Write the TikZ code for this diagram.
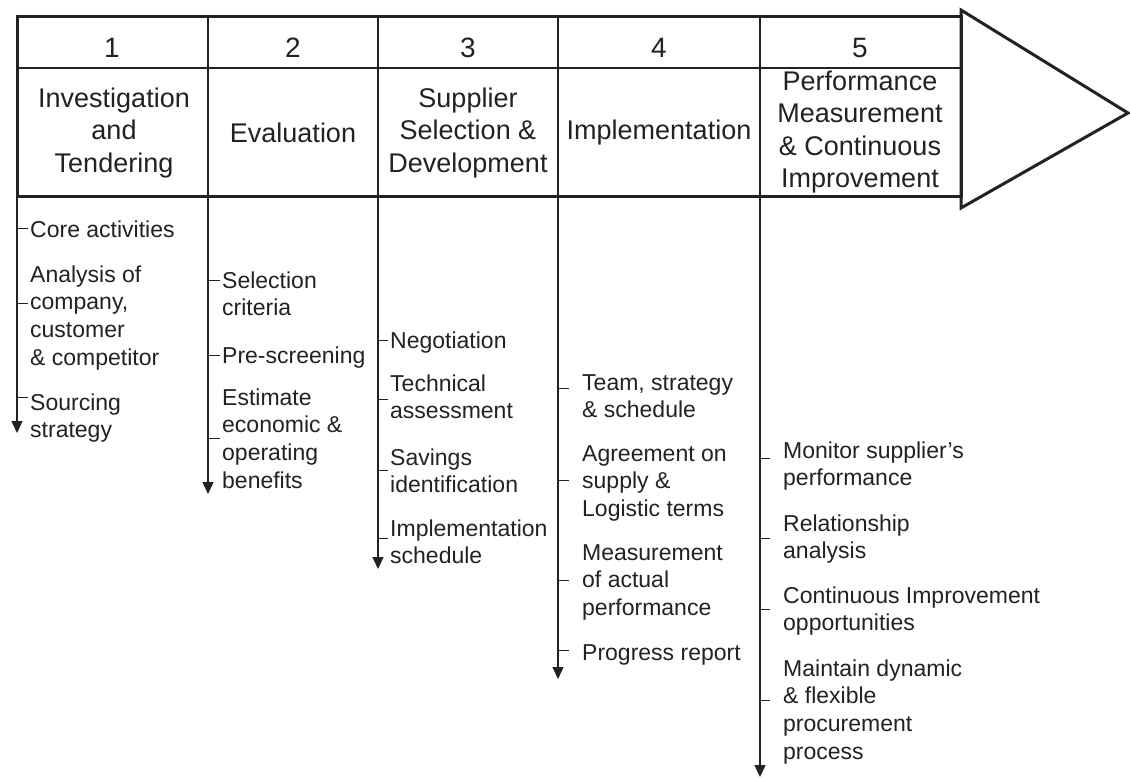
\documentclass[tikz,border=0pt]{standalone}
\usepackage{fontspec}
\setmainfont{Liberation Sans}
\usetikzlibrary{arrows.meta}
\definecolor{ink}{HTML}{222222}
\newcommand\itemtxt[1]{\parbox[t]{300pt}{\raggedright #1}}
\begin{document}
\begin{tikzpicture}[x=1pt,y=-1pt,
 frame/.style={line width=3pt, draw=ink, line join=miter},
 divider/.style={line width=1.2pt, draw=ink},
 timeline/.style={line width=1.3pt, draw=ink, -{Triangle[length=12pt,width=11pt]}},
 tick/.style={line width=1pt, draw=ink},
 numtxt/.style={font=\fontsize{28}{32}\selectfont, text=ink, inner sep=0},
 headtxt/.style={font=\fontsize{27}{32.5}\selectfont, text=ink, align=center, inner sep=0},
 itemnode/.style={font=\fontsize{23}{27.8}\selectfont, text=ink, anchor=base west, inner sep=0},
]
\useasboundingbox (0,0) rectangle (1130,778);
\fill[white] (0,0) rectangle (1130,778);

% header grid
\draw[divider] (17,68) -- (961,68);
\foreach \x in {208,378,558,760} \draw[divider] (\x,17) -- (\x,197);
\draw[frame] (17,17) rectangle (961,197);
\draw[frame] (961,10) -- (1128,113) -- (961,208) -- cycle;

% numbers
\node[numtxt] (n1) at (112,48) {1};
\node[numtxt] (n2) at (293,48) {2};
\node[numtxt] (n3) at (468,48) {3};
\node[numtxt] (n4) at (659,48) {4};
\node[numtxt] (n5) at (860,48) {5};

% header titles
\node[headtxt] (h1) at (114,133) {Investigation\\and\\Tendering};
\node[headtxt] (h2) at (293,133) {Evaluation};
\node[headtxt] (h3) at (468,133) {Supplier\\Selection \&\\Development};
\node[headtxt] (h4) at (659,133) {Implementation};
\node[headtxt] (h5) at (860,132) {Performance\\Measurement\\\& Continuous\\Improvement};

% timelines
\coordinate (t1) at (17,197);  \coordinate (e1) at (17,433);
\coordinate (t2) at (208,197); \coordinate (e2) at (208,494);
\coordinate (t3) at (378,197); \coordinate (e3) at (378,569);
\coordinate (t4) at (558,197); \coordinate (e4) at (558,679);
\coordinate (t5) at (760,197); \coordinate (e5) at (760,777);
\foreach \i in {1,...,5} \draw[timeline] (t\i) -- (e\i);

% column 1
\node[itemnode] (a1) at (30,237) {\itemtxt{Core activities}};
\node[itemnode] (a2) at (30,282) {\itemtxt{Analysis of\\company,\\customer\\\& competitor}};
\node[itemnode] (a3) at (30,410) {\itemtxt{Sourcing\\strategy}};
\draw[tick] (17,229) -- ++(11,0);
\draw[tick] (17,303) -- ++(11,0);
\draw[tick] (17,397) -- ++(11,0);

% column 2
\node[itemnode] (b1) at (222,288) {\itemtxt{Selection\\criteria}};
\node[itemnode] (b2) at (222,363) {\itemtxt{Pre-screening}};
\node[itemnode] (b3) at (222,405) {\itemtxt{Estimate\\economic \&\\operating\\benefits}};
\draw[tick] (208,280) -- ++(12,0);
\draw[tick] (208,355) -- ++(12,0);
\draw[tick] (208,438) -- ++(12,0);

% column 3
\node[itemnode] (c1) at (390,348) {\itemtxt{Negotiation}};
\node[itemnode] (c2) at (390,391) {\itemtxt{Technical\\assessment}};
\node[itemnode] (c3) at (390,465) {\itemtxt{Savings\\identification}};
\node[itemnode] (c4) at (390,536) {\itemtxt{Implementation\\schedule}};
\draw[tick] (378,340) -- ++(10,0);
\draw[tick] (378,399) -- ++(10,0);
\draw[tick] (378,470) -- ++(10,0);
\draw[tick] (378,538) -- ++(10,0);

% column 4
\node[itemnode] (d1) at (582,390) {\itemtxt{Team, strategy\\\& schedule}};
\node[itemnode] (d2) at (582,461) {\itemtxt{Agreement on\\supply \&\\Logistic terms}};
\node[itemnode] (d3) at (582,560) {\itemtxt{Measurement\\of actual\\performance}};
\node[itemnode] (d4) at (582,660) {\itemtxt{Progress report}};
\draw[tick] (558,388) -- ++(11,0);
\draw[tick] (558,480) -- ++(11,0);
\draw[tick] (558,580) -- ++(11,0);
\draw[tick] (558,650) -- ++(11,0);

% column 5
\node[itemnode] (f1) at (783,458) {\itemtxt{Monitor supplier’s\\performance}};
\node[itemnode] (f2) at (783,531) {\itemtxt{Relationship\\analysis}};
\node[itemnode] (f3) at (783,603) {\itemtxt{Continuous Improvement\\opportunities}};
\node[itemnode] (f4) at (783,676) {\itemtxt{Maintain dynamic\\\& flexible\\procurement\\process}};
\draw[tick] (760,458) -- ++(10,0);
\draw[tick] (760,538) -- ++(10,0);
\draw[tick] (760,609) -- ++(10,0);
\draw[tick] (760,700) -- ++(10,0);
\end{tikzpicture}
\end{document}
